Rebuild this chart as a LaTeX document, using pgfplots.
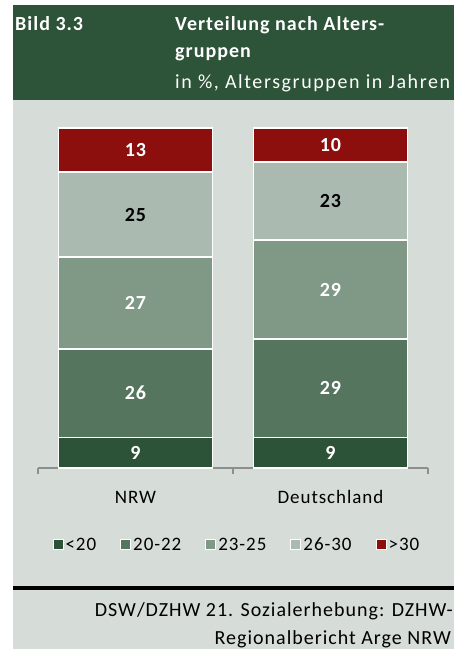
\documentclass[border=0pt]{standalone}
\usepackage{pgfplots}
\pgfplotsset{compat=1.18}
\usepackage{pgfplotstable}
\usepackage{fontspec}
\setmainfont{Carlito}[LetterSpace=5]
\definecolor{cA}{HTML}{2C5337}
\definecolor{cB}{HTML}{56755F}
\definecolor{cC}{HTML}{809886}
\definecolor{cD}{HTML}{AABAB0}
\definecolor{cE}{HTML}{8C0E0D}
\definecolor{bg}{HTML}{D6DDD9}
\definecolor{hdr}{HTML}{2D5338}
\definecolor{axg}{HTML}{8E8E8E}
\pgfplotstableread{
x a b c d e
0 9 26 27 25 13
1 9 29 29 23 10
}\data
\newcommand{\fs}{\fontsize{20}{24}\selectfont}
\newcommand{\fsl}{\fontsize{19}{23}\selectfont}
\begin{document}
\begin{tikzpicture}
\fill[white] (0pt,0pt) rectangle (454pt,649pt);
\fill[bg] (13pt,0pt) rectangle (454pt,644pt);
\fill[hdr] (13pt,549pt) rectangle (454pt,644pt);
\fill[black] (13pt,59pt) rectangle (454pt,62.5pt);
\node[anchor=base west,inner sep=0,text=white,font=\fs\bfseries] at (15pt,618pt) {Bild 3.3};
\node[anchor=base west,inner sep=0,text=white,font=\fs\bfseries] at (175pt,618pt) {Verteilung nach Alters-};
\node[anchor=base west,inner sep=0,text=white,font=\fs\bfseries] at (175pt,591.5pt) {gruppen};
\node[anchor=base west,inner sep=0,text=white,font=\fs\addfontfeatures{LetterSpace=8}] at (175pt,560pt) {in \%, Altersgruppen in Jahren};
\node[anchor=base east,inner sep=0,font=\fs] at (453pt,32pt) {DSW/DZHW 21. Sozialerhebung: DZHW-};
\node[anchor=base east,inner sep=0,font=\fs] at (451pt,5pt) {Regionalbericht Arge NRW};
\begin{axis}[
  at={(38pt,181pt)}, anchor=south west,
  scale only axis, width=390pt, height=340pt,
  ybar stacked, bar width=154pt,
  xmin=-0.5, xmax=1.5, ymin=0, ymax=100,
  enlargelimits=false, clip=false,
  axis x line*=bottom, axis y line=none,
  axis line style={draw=axg, line width=1.5pt},
  xtick={0,1}, xticklabels={NRW,Deutschland},
  major tick length=0pt,
  extra x ticks={-0.5,0.5,1.5}, extra x tick labels={},
  extra x tick style={xtick align=outside, major tick length=6pt, tick style={draw=axg, line width=1.5pt}},
  xticklabel style={font=\fsl, anchor=base, yshift=-35pt},
  ytick=\empty,
  /pgf/number format/assume math mode=true,
  every axis plot/.append style={draw=white, line width=1.5pt},
  visualization depends on=rawy \as \rawy,
  nodes near coords={\pgfmathprintnumber{\rawy}},
  every node near coord/.append style={font=\fs\bfseries, anchor=center},
  legend columns=5,
  legend style={draw=none, fill=none, at={(axis description cs:0.51,-0.226)}, anchor=center, font=\fsl,
    /tikz/every even column/.append style={column sep=22pt}},
  legend image code/.code={\draw[#1, draw=white, line width=1pt] (0pt,-5pt) rectangle (10pt,5pt);},
]
\addplot[fill=cA, every node near coord/.append style={text=white}] table[x=x,y=a]{\data};
\addplot[fill=cB, every node near coord/.append style={text=white}] table[x=x,y=b]{\data};
\addplot[fill=cC, every node near coord/.append style={text=white}] table[x=x,y=c]{\data};
\addplot[fill=cD, every node near coord/.append style={text=black}] table[x=x,y=d]{\data};
\addplot[fill=cE, every node near coord/.append style={text=white}] table[x=x,y=e]{\data};
\legend{<20, 20-22, 23-25, 26-30, >30}
\end{axis}
\pgfresetboundingbox
\path[use as bounding box] (0pt,0pt) rectangle (454pt,649pt);
\end{tikzpicture}
\end{document}
